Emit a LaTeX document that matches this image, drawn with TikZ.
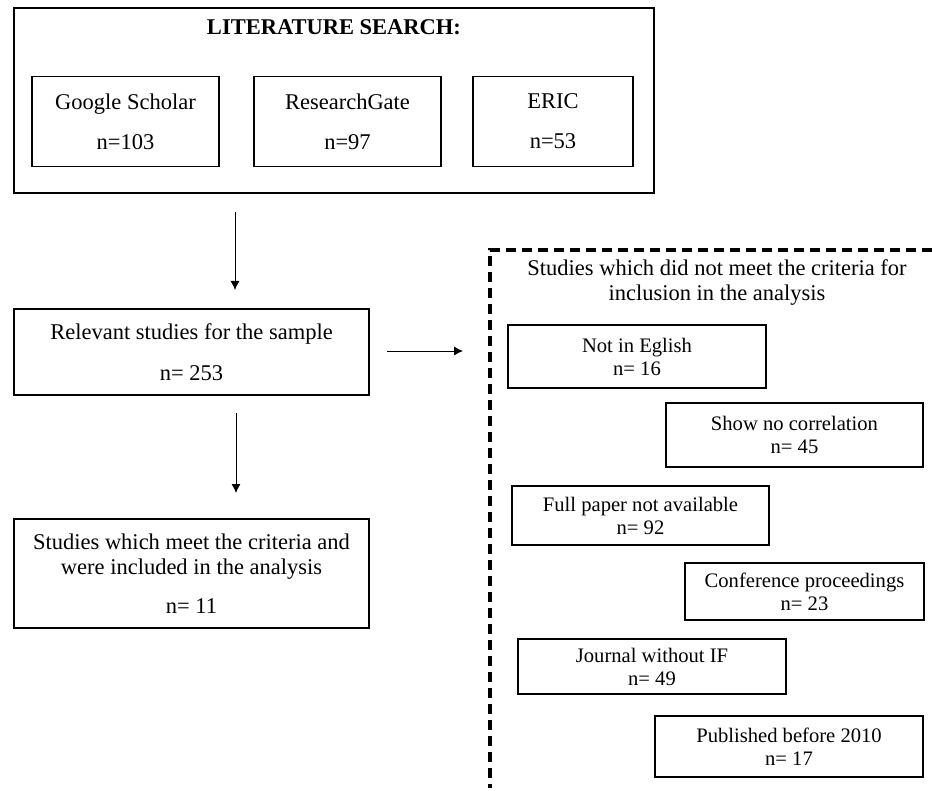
\documentclass[tikz,border=0pt]{standalone}
\usepackage{fontspec}
\setmainfont{Liberation Serif}
\usetikzlibrary{arrows.meta}

\tikzset{
  box/.style={draw, line width=1.5pt, inner sep=0pt, align=center},
  bigtext/.style={font=\fontsize{22.5}{25}\selectfont},
  smalltext/.style={font=\fontsize{20.6}{23}\selectfont},
  flow/.style={line width=0.8pt, -{Latex[length=9pt,width=9pt]}},
  dashbox/.style={line width=3.5pt, dash pattern=on 10pt off 6pt}
}

\begin{document}
\begin{tikzpicture}[x=1pt,y=-1pt]

   \useasboundingbox (0,0) rectangle (932,791);

%  literature search
   \node[box, minimum width=640, minimum height=185] (search) at (334,100.5) {};
   \node[bigtext, font=\fontsize{22.5}{25}\selectfont\bfseries] (title) at (334,27) {LITERATURE SEARCH:};
   \node[box, bigtext, minimum width=187, minimum height=90] (gs) at (125.5,121.5) {Google Scholar\\[15pt]n=103};
   \node[box, bigtext, minimum width=187, minimum height=90] (rg) at (347.5,121.5) {ResearchGate\\[15pt]n=97};
   \node[box, bigtext, minimum width=160, minimum height=90] (eric) at (553,121.5) {ERIC\\[15pt]n=53};

%  left column
   \node[box, bigtext, minimum width=355, minimum height=86] (relevant) at (191.5,352) {Relevant studies for the sample\\[16pt]n= 253};
   \node[box, bigtext, minimum width=355, minimum height=109] (included) at (191.5,573.5) {Studies which meet the criteria and\\were included in the analysis\\[14pt]n= 11};

   \coordinate (a1) at (235,212);
   \coordinate (b1) at (235,290);
   \coordinate (a2) at (236,413);
   \coordinate (b2) at (236,493);
   \coordinate (a3) at (387,351);
   \coordinate (b3) at (463,351);
   \draw[flow] (a1) -- (b1);
   \draw[flow] (a2) -- (b2);
   \draw[flow] (a3) -- (b3);

%  excluded studies
   \draw[dashbox] (932,250) -- (490,250) -- (490,788);
   \node[bigtext, align=center] (excluded) at (717,283) {Studies which did not meet the criteria for\\inclusion in the analysis};

   \node[box, smalltext, minimum width=258, minimum height=63] (english) at (637,356.5) {Not in Eglish\\n= 16};
   \node[box, smalltext, minimum width=257, minimum height=64] (nocorr) at (794.5,435) {Show no correlation\\n= 45};
   \node[box, smalltext, minimum width=257, minimum height=59] (fullpaper) at (640.5,515.5) {Full paper not available\\n= 92};
   \node[box, smalltext, minimum width=239, minimum height=57] (conf) at (804.5,591.5) {Conference proceedings\\n= 23};
   \node[box, smalltext, minimum width=268, minimum height=55] (journal) at (652,666.5) {Journal without IF\\n= 49};
   \node[box, smalltext, minimum width=268, minimum height=61] (before) at (789,746.5) {Published before 2010\\n= 17};

\end{tikzpicture}
\end{document}
